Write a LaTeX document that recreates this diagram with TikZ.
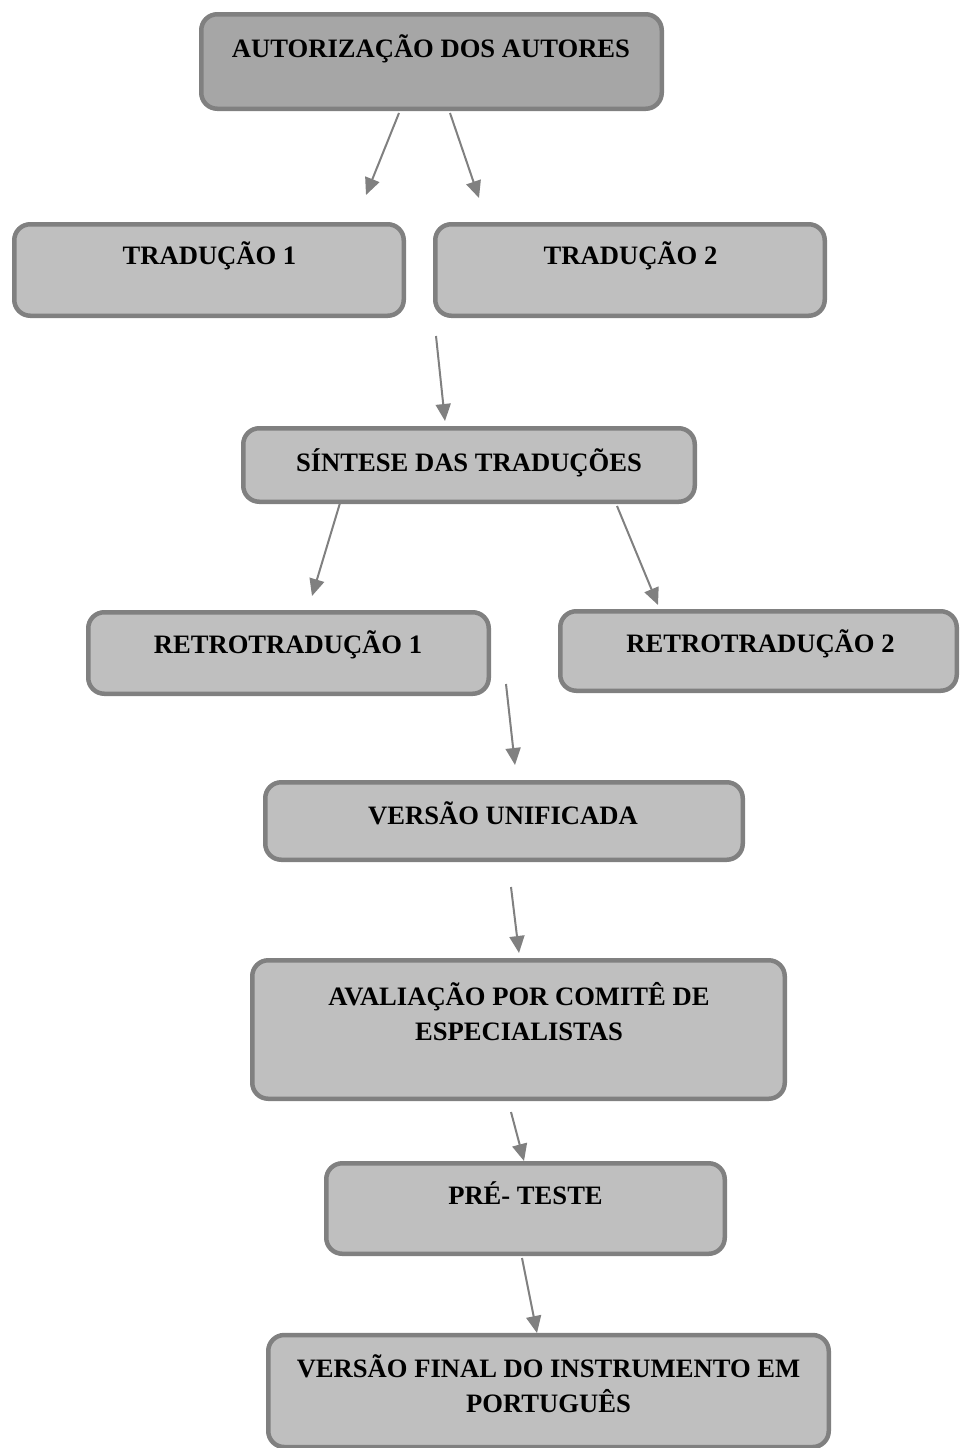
\documentclass[tikz,border=0pt]{standalone}
\usepackage{fontspec}
\setmainfont{Liberation Serif}
\usetikzlibrary{arrows.meta}
\definecolor{boxfill}{HTML}{BFBFBF}
\definecolor{topfill}{HTML}{A6A6A6}
\definecolor{boxline}{HTML}{808080}
\tikzset{
  flowbox/.style={draw=boxline, line width=4.5pt, fill=boxfill, rounded corners=16pt, inner sep=0pt},
  topbox/.style={flowbox, fill=topfill},
  boxtext/.style={anchor=base, inner sep=0pt, font=\fontsize{26.6}{35.5}\selectfont\bfseries},
  flowarrow/.style={draw=boxline, line width=2pt, -{Triangle[length=17pt,width=15pt]}}
}
\begin{document}
\begin{tikzpicture}[x=1pt,y=-1pt]
\useasboundingbox (0,0) rectangle (960,1448);
% boxes
\node[topbox, minimum width=460.5pt, minimum height=94.5pt] (b1) at (431.5,61.5) {};
\node[flowbox, minimum width=389.5pt, minimum height=91.5pt] (b2) at (209,270) {};
\node[flowbox, minimum width=389.5pt, minimum height=91.5pt] (b3) at (630,270) {};
\node[flowbox, minimum width=451.5pt, minimum height=73.5pt] (b4) at (469,465) {};
\node[flowbox, minimum width=400.5pt, minimum height=81.5pt] (b5) at (288.5,653) {};
\node[flowbox, minimum width=396.5pt, minimum height=79.5pt] (b6) at (758.5,651) {};
\node[flowbox, minimum width=477.5pt, minimum height=77.5pt] (b7) at (504,821) {};
\node[flowbox, minimum width=532.5pt, minimum height=138.5pt] (b8) at (518.5,1029.5) {};
\node[flowbox, minimum width=398.5pt, minimum height=90.5pt] (b9) at (525.5,1208.5) {};
\node[flowbox, minimum width=560.5pt, minimum height=112pt] (b10) at (548.5,1391) {};
% texts
\node[boxtext] (t1) at (431,57) {AUTORIZAÇÃO DOS AUTORES};
\node[boxtext] (t2) at (209.5,264) {TRADUÇÃO 1};
\node[boxtext] (t3) at (630.5,264) {TRADUÇÃO 2};
\node[boxtext] (t4) at (469,471) {SÍNTESE DAS TRADUÇÕES};
\node[boxtext] (t5) at (288,653) {RETROTRADUÇÃO 1};
\node[boxtext] (t6) at (760.5,652) {RETROTRADUÇÃO 2};
\node[boxtext] (t7) at (503,824) {VERSÃO UNIFICADA};
\node[boxtext] (t8) at (519,1005) {\begin{tabular}[t]{@{}c@{}}AVALIAÇÃO POR COMITÊ DE\\ESPECIALISTAS\end{tabular}};
\node[boxtext] (t9) at (525.5,1204) {PRÉ- TESTE};
\node[boxtext] (t10) at (548.5,1377) {\begin{tabular}[t]{@{}c@{}}VERSÃO FINAL DO INSTRUMENTO EM\\PORTUGUÊS\end{tabular}};
% arrow end points
\coordinate (a1s) at (399,113); \coordinate (a1e) at (366,195);
\coordinate (a2s) at (450,113); \coordinate (a2e) at (479,198);
\coordinate (a3s) at (436,336); \coordinate (a3e) at (445,421);
\coordinate (a4s) at (340,503); \coordinate (a4e) at (312,596);
\coordinate (a5s) at (617,506); \coordinate (a5e) at (658,605);
\coordinate (a6s) at (506,684); \coordinate (a6e) at (515,765);
\coordinate (a7s) at (511,887); \coordinate (a7e) at (519,953);
\coordinate (a8s) at (511,1112); \coordinate (a8e) at (524,1161);
\coordinate (a9s) at (522,1258); \coordinate (a9e) at (537,1333);
\draw[flowarrow] (a1s) -- (a1e);
\draw[flowarrow] (a2s) -- (a2e);
\draw[flowarrow] (a3s) -- (a3e);
\draw[flowarrow] (a4s) -- (a4e);
\draw[flowarrow] (a5s) -- (a5e);
\draw[flowarrow] (a6s) -- (a6e);
\draw[flowarrow] (a7s) -- (a7e);
\draw[flowarrow] (a8s) -- (a8e);
\draw[flowarrow] (a9s) -- (a9e);
\end{tikzpicture}
\end{document}
